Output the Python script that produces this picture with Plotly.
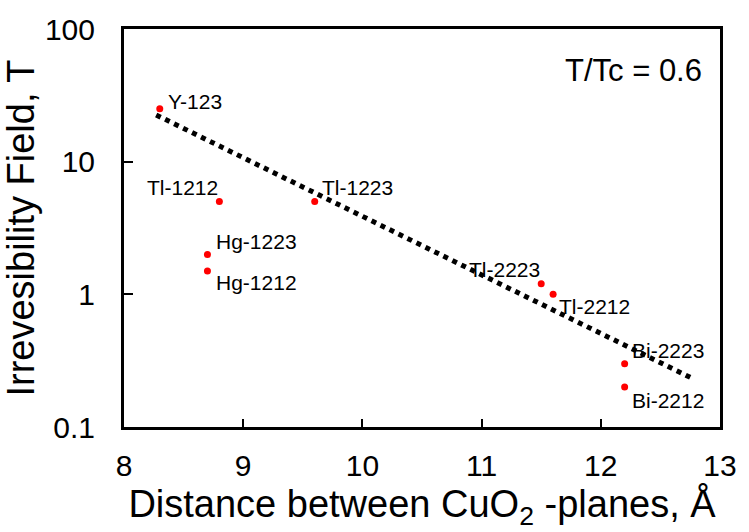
import math
import plotly.graph_objects as go

# Irreversibility field at T/Tc = 0.6 versus CuO2 plane spacing
compounds = ["Y-123", "Tl-1212", "Tl-1223", "Hg-1223", "Hg-1212",
             "Tl-2223", "Tl-2212", "Bi-2223", "Bi-2212"]
spacing = [8.3, 8.8, 9.6, 8.7, 8.7, 11.5, 11.6, 12.2, 12.2]
field = [25, 5, 5, 2, 1.5, 1.2, 1.0, 0.3, 0.2]

# Exponential trend line end points
fit_x = [8.27, 12.77]
fit_y = [22.5, 0.232]

x_ticks = [8, 9, 10, 11, 12, 13]
y_ticks = [0.1, 1, 10, 100]
y_tick_text = ["0.1", "1", "10", "100"]

# label placement relative to each point: (xanchor, xshift, yshift)
label_place = {
    "Y-123": ("left", 6, 7),
    "Tl-1212": ("right", 1, 14),
    "Tl-1223": ("left", 5, 14),
    "Hg-1223": ("left", 7, 13),
    "Hg-1212": ("left", 7, -12),
    "Tl-2223": ("right", 1, 14),
    "Tl-2212": ("left", 4, -12),
    "Bi-2223": ("left", 5, 13),
    "Bi-2212": ("left", 5, -13),
}

FONT = "Liberation Sans, Arial, sans-serif"

# plot area in pixels
plot_l, plot_r, plot_t, plot_b = 123, 728, 20, 427

fig = go.Figure()
fig.add_trace(go.Scatter(
    x=fit_x, y=fit_y, mode="lines",
    line=dict(color="black", width=5, dash="dot"),
    hoverinfo="skip", showlegend=False,
))
fig.add_trace(go.Scatter(
    x=spacing, y=field, mode="markers",
    marker=dict(color="#ff0000", size=7),
    text=compounds, showlegend=False,
))

annotations = []
for name, xv, yv in zip(compounds, spacing, field):
    anchor, dx, dy = label_place[name]
    annotations.append(dict(
        x=xv, y=math.log10(yv), xref="x", yref="y", yanchor="middle",
        text=name, showarrow=False, xanchor=anchor,
        xshift=dx, yshift=dy,
        font=dict(family=FONT, size=21, color="black"),
    ))
annotations.append(dict(
    x=(712 - plot_l) / (plot_r - plot_l),
    y=(plot_b - 62) / (plot_b - plot_t),
    xref="paper", yref="paper",
    xanchor="right", yanchor="middle", showarrow=False,
    text="T/Tc = 0.6", font=dict(family=FONT, size=31, color="black"),
))

fig.update_layout(
    width=749, height=532,
    margin=dict(l=plot_l, r=749 - plot_r, t=plot_t, b=532 - plot_b),
    paper_bgcolor="white", plot_bgcolor="white",
    font=dict(family=FONT, color="black"),
    annotations=annotations,
    xaxis=dict(
        range=[8, 13], tickvals=x_ticks, ticks="inside", ticklen=8,
        tickwidth=1.5, tickcolor="black",
        showline=True, linecolor="black", linewidth=3, mirror=True,
        showgrid=False, zeroline=False,
        tickfont=dict(size=30), ticklabelstandoff=10,
        title=dict(text="Distance between CuO<sub>2</sub> -planes, Å",
                   font=dict(size=38), standoff=8),
    ),
    yaxis=dict(
        type="log", range=[-1, 2], tickvals=y_ticks, ticktext=y_tick_text,
        ticks="inside", ticklen=9, tickwidth=1.5, tickcolor="black",
        showline=True, linecolor="black", linewidth=3, mirror=True,
        showgrid=False, zeroline=False,
        tickfont=dict(size=30), ticklabelstandoff=20,
        title=dict(text="Irrevesibility Field, T", font=dict(size=38),
                   standoff=6),
    ),
)

fig.write_html("out.html")
